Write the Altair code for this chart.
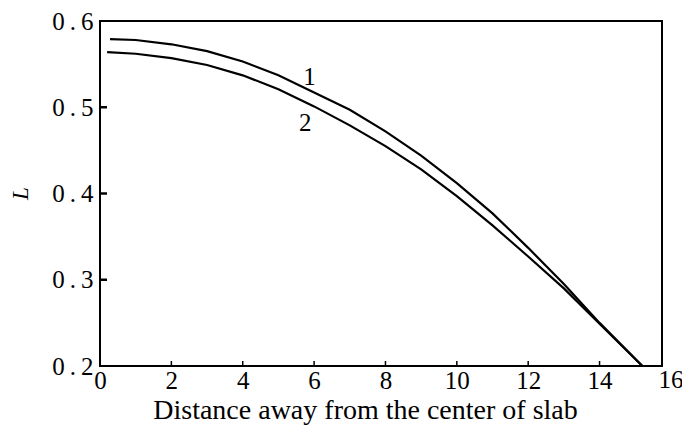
import altair as alt
import pandas as pd

# Curve 1 (upper)
x_curve1 = [0.28, 1.0, 2.0, 3.0, 4.0, 5.0, 6.0, 7.0, 8.0, 9.0, 10.0, 11.0, 12.0, 13.0, 14.0, 15.2]
L_curve1 = [0.579, 0.578, 0.573, 0.565, 0.553, 0.537, 0.517, 0.497, 0.472, 0.444, 0.412, 0.377, 0.337, 0.295, 0.250, 0.200]
# Curve 2 (lower)
x_curve2 = [0.2, 1.0, 2.0, 3.0, 4.0, 5.0, 6.0, 7.0, 8.0, 9.0, 10.0, 11.0, 12.0, 13.0, 14.0, 15.2]
L_curve2 = [0.564, 0.562, 0.557, 0.549, 0.537, 0.521, 0.501, 0.479, 0.455, 0.428, 0.397, 0.363, 0.327, 0.290, 0.249, 0.200]

label_text = ["1", "2"]
label_x = [5.87, 5.75]
label_L = [0.535, 0.482]

x_axis_values = [0, 2, 4, 6, 8, 10, 12, 14]
x_last_label = [16]
y_axis_values = [0.2, 0.3, 0.4, 0.5, 0.6]
x_inner_ticks = [2, 4, 6, 8, 10, 12, 14]
y_inner_ticks = [0.3, 0.4, 0.5]

W, H = 562, 345
FONT = "Liberation Serif"

df = pd.concat([
    pd.DataFrame({"x": x_curve1, "y": L_curve1, "series": "1"}),
    pd.DataFrame({"x": x_curve2, "y": L_curve2, "series": "2"}),
])

xs = alt.Scale(domain=[0, 15.75], nice=False, zero=False)
ys = alt.Scale(domain=[0.2, 0.6], nice=False, zero=False)

x_axis = alt.Axis(
    values=x_axis_values, ticks=False, tickSize=0, domain=False, grid=False,
    labelFont=FONT, labelFontSize=25, labelColor="black", labelPadding=2,
    labelFlush=False, labelOverlap=False,
    title="Distance away from the center of slab", titleFont=FONT,
    titleFontSize=28, titleFontWeight="normal", titleColor="black",
    titleX=265, titleY=52, titleAlign="center", titleBaseline="alphabetic",
)
y_axis = alt.Axis(
    values=y_axis_values, ticks=False, tickSize=0, domain=False, grid=False,
    labelFont=FONT, labelFontSize=25, labelColor="black", labelPadding=7,
    labelFlush=False, labelOverlap=False,
    labelExpr="replace(format(datum.value, '.1f'), '.', '\u2009.\u2009')",
    title="L", titleFont=FONT, titleFontSize=23, titleFontStyle="italic",
    titleFontWeight="normal", titleColor="black", titleAngle=270,
    titleX=-80, titleY=172, titleAlign="center", titleBaseline="middle",
)

lines = alt.Chart(df).mark_line(color="black", strokeWidth=2.2).encode(
    x=alt.X("x:Q", scale=xs, axis=x_axis),
    y=alt.Y("y:Q", scale=ys, axis=y_axis),
    detail="series:N",
)

yt = alt.Chart(pd.DataFrame({"y": y_inner_ticks})).mark_tick(
    color="black", thickness=2.5, size=7, opacity=1, orient="horizontal"
).encode(y=alt.Y("y:Q", scale=ys), x=alt.value(3.5))

xt = alt.Chart(pd.DataFrame({"x": x_inner_ticks})).mark_tick(
    color="black", thickness=1.5, size=5, opacity=1, orient="vertical"
).encode(x=alt.X("x:Q", scale=xs), y=alt.value(H - 2.5))

last = alt.Chart(pd.DataFrame({"x": x_last_label, "t": ["16"]})).mark_text(
    font=FONT, fontSize=25, color="black", align="center", baseline="top"
).encode(x=alt.X("x:Q", scale=xs), y=alt.value(H + 2), text="t:N")

labels = alt.Chart(pd.DataFrame({"x": label_x, "y": label_L, "t": label_text})).mark_text(
    font=FONT, fontSize=25, color="black", align="center", baseline="middle"
).encode(x=alt.X("x:Q", scale=xs), y=alt.Y("y:Q", scale=ys), text="t:N")

chart = alt.layer(lines, yt, xt, last, labels).properties(
    width=W, height=H, background="white",
    autosize=alt.AutoSizeParams(type="none"),
    padding={"left": 100, "top": 21, "right": 20, "bottom": 62},
).configure_view(stroke="black", strokeWidth=2)

chart.save("out.html", embed_options={"renderer": "svg", "actions": False})
